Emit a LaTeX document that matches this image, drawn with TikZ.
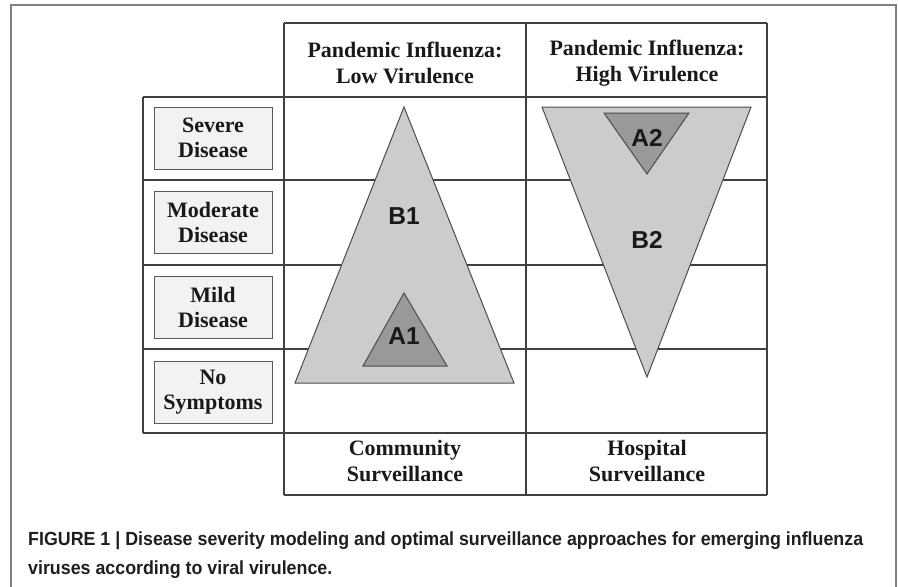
\documentclass[tikz,border=0pt]{standalone}
\usepackage{fontspec}
\setmainfont{Liberation Serif}
\newfontfamily\sansf{Liberation Sans}
\usepackage{graphicx}
\newsavebox\capboxA
\begin{document}
\sbox\capboxA{\sansf\bfseries\fontsize{19}{22}\selectfont FIGURE 1 | Disease severity modeling and optimal surveillance approaches for emerging influenza}
\pgfmathsetmacro\capsc{835/\the\wd\capboxA}
\begin{tikzpicture}[x=1pt,y=-1pt,
  gridline/.style={draw=black!75, line width=1.2pt},
  hdr/.style={font=\fontsize{22}{26}\selectfont\bfseries, align=center, text=black!90, inner sep=0pt},
  lbl/.style={draw=black!65, fill=black!5, line width=1pt, minimum width=118pt, minimum height=62pt, inner sep=0pt, font=\fontsize{22}{25}\selectfont\bfseries, align=center, text=black!90},
  bigtri/.style={fill=black!20, draw=black!70, line width=1pt, line join=miter},
  smalltri/.style={fill=black!40, draw=black!70, line width=1pt},
  trilbl/.style={font=\sansf\bfseries\fontsize{24.5}{28}\selectfont, inner sep=0pt, text=black!90},
  capt/.style={font=\sansf\bfseries\fontsize{19}{22}\selectfont, anchor=base west, inner sep=0pt, text=black!88},
  outerframe/.style={draw=black!50, line width=2pt}]
\useasboundingbox (0,0) rectangle (898,587);
% outer frame (open at the bottom)
\coordinate (fbl) at (11,587);
\coordinate (ftl) at (11,5);
\coordinate (ftr) at (896,5);
\coordinate (fbr) at (896,587);
\draw[outerframe] (fbl) -- (ftl) -- (ftr) -- (fbr);

% grid coordinates
\coordinate (h0l) at (284,23);  \coordinate (h0r) at (767,23);
\coordinate (h1l) at (143,97);  \coordinate (h1r) at (767,97);
\coordinate (h2l) at (143,180); \coordinate (h2r) at (767,180);
\coordinate (h3l) at (143,265); \coordinate (h3r) at (767,265);
\coordinate (h4l) at (143,349); \coordinate (h4r) at (767,349);
\coordinate (h5l) at (143,433); \coordinate (h5r) at (767,433);
\coordinate (h6l) at (284,495); \coordinate (h6r) at (767,495);
\coordinate (v0t) at (143,97);  \coordinate (v0b) at (143,433);
\coordinate (v1t) at (284,23);  \coordinate (v1b) at (284,495);
\coordinate (v2t) at (526,23);  \coordinate (v2b) at (526,495);
\coordinate (v3t) at (767,23);  \coordinate (v3b) at (767,495);
\foreach \n in {0,...,6} {\draw[gridline] (h\n l) -- (h\n r);}
\foreach \n in {0,...,3} {\draw[gridline] (v\n t) -- (v\n b);}

% headers and footers
\node[hdr] (hlow) at (405,63) {Pandemic Influenza:\\Low Virulence};
\node[hdr] (hhigh) at (647,63) {Pandemic Influenza:\\High Virulence};
\node[hdr] (fcom) at (405,461) {Community\\Surveillance};
\node[hdr] (fhos) at (647,461) {Hospital\\Surveillance};

% row labels
\node[lbl] (severe) at (213,138) {Severe\\Disease};
\node[lbl] (moderate) at (213,222) {Moderate\\Disease};
\node[lbl] (mild) at (213,307) {Mild\\Disease};
\node[lbl] (nosym) at (213,392) {No\\Symptoms};

% low virulence triangles
\coordinate (b1t) at (404,107);
\coordinate (b1l) at (295,383);
\coordinate (b1r) at (514,383);
\draw[bigtri] (b1t) -- (b1r) -- (b1l) -- cycle;
\coordinate (a1t) at (404,293);
\coordinate (a1l) at (363,366);
\coordinate (a1r) at (447,366);
\draw[smalltri] (a1t) -- (a1r) -- (a1l) -- cycle;
\node[trilbl] (B1) at (404,216) {B1};
\node[trilbl] (A1) at (404,336) {A1};

% high virulence triangles
\coordinate (b2l) at (542,107);
\coordinate (b2r) at (751,107);
\coordinate (b2b) at (647,377);
\draw[bigtri] (b2l) -- (b2r) -- (b2b) -- cycle;
\coordinate (a2l) at (604,113);
\coordinate (a2r) at (689,113);
\coordinate (a2b) at (647,174);
\draw[smalltri] (a2l) -- (a2r) -- (a2b) -- cycle;
\node[trilbl] (A2) at (647,138) {A2};
\node[trilbl] (B2) at (647,240) {B2};

% caption
\node[capt] (cap1) at (28,545) {\scalebox{\capsc}[1]{FIGURE 1 | Disease severity modeling and optimal surveillance approaches for emerging influenza}};
\node[capt] (cap2) at (28,574) {\scalebox{\capsc}[1]{viruses according to viral virulence.}};
\end{tikzpicture}
\end{document}
